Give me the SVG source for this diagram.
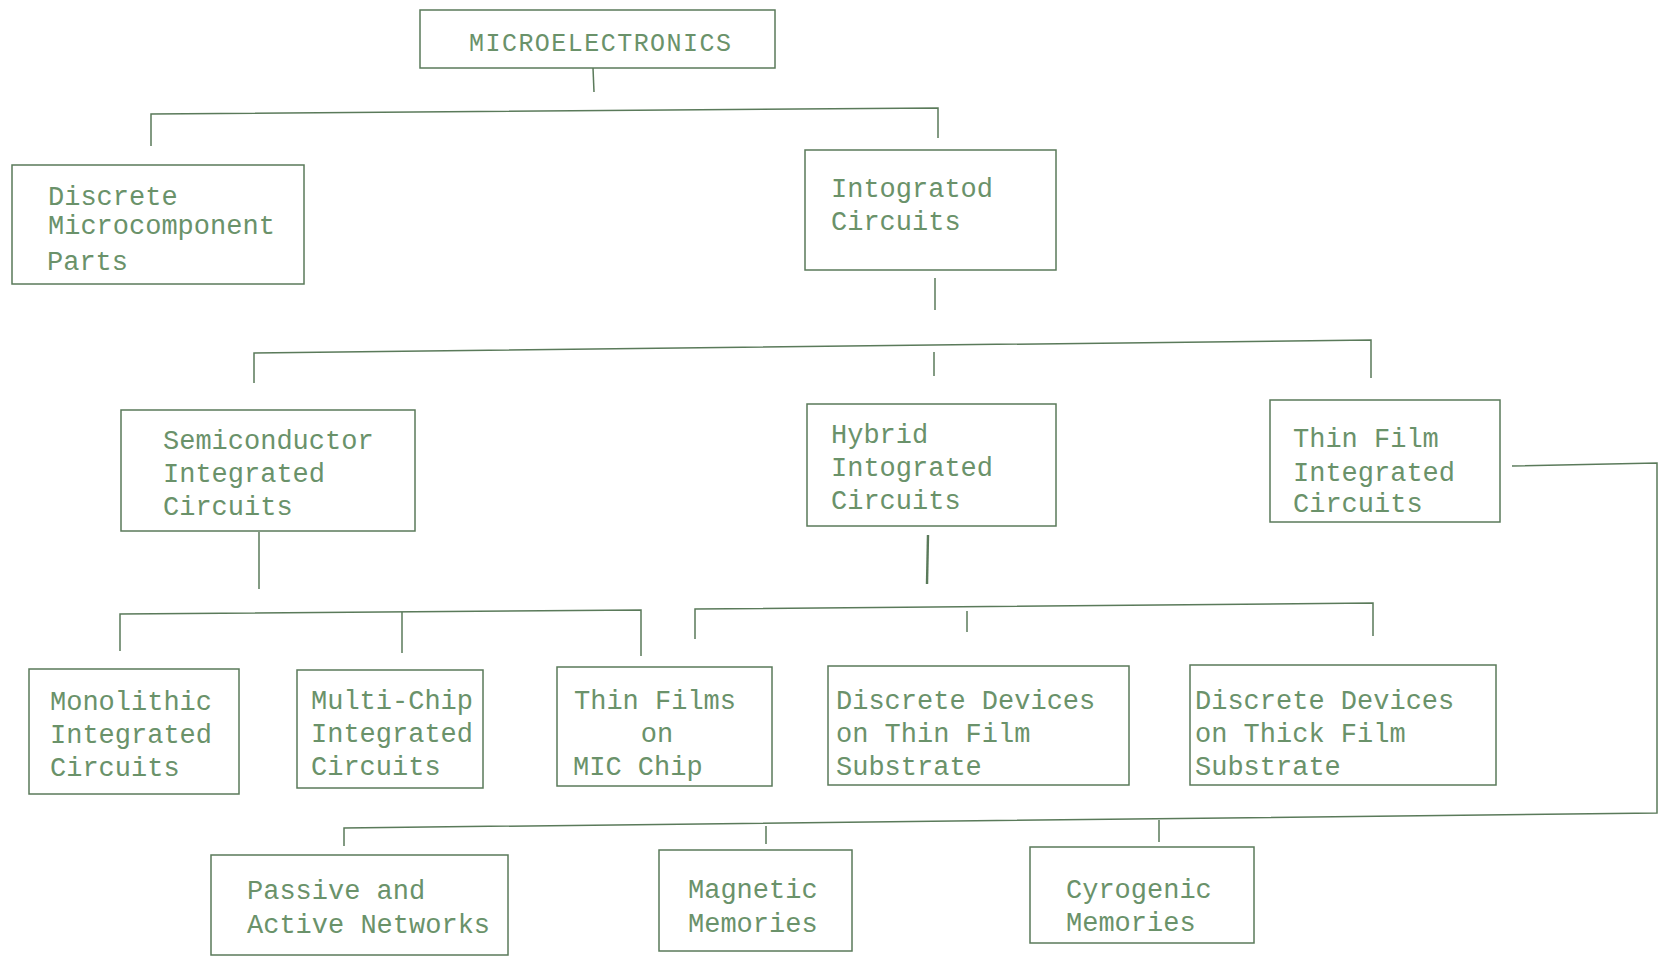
<svg xmlns="http://www.w3.org/2000/svg" width="1660" height="957" viewBox="0 0 1660 957">
<style>
  .box { fill: none; stroke: #5a7a5a; stroke-width: 1.5; }
  .lbl { font-family: "Liberation Mono", "DejaVu Sans Mono", monospace; font-size: 27px; fill: #6a926a; }
  .small { font-size: 25px; }
  .conn path { fill: none; stroke: #5a7a5a; stroke-width: 1.5; }
</style>
<rect width="1660" height="957" fill="#ffffff"/>

<g id="connectors" class="conn">
  <path d="M593,68 L594,92"/>
  <path d="M151,146 L151,114 L938,108 L938,138"/>
  <path d="M935,278 L935,310"/>
  <path d="M254,383 L254,353 L1371,340 L1371,378"/>
  <path d="M934,352 L934,376"/>
  <path d="M259,532 L259,589"/>
  <path d="M120,651 L120,614 L641,610 L641,656"/>
  <path d="M402,612 L402,653"/>
  <path d="M928,535 L927,584" style="stroke-width:2.4"/>
  <path d="M695,639 L695,609 L1373,603 L1373,636"/>
  <path d="M967,611 L967,632"/>
  <path d="M1512,466 L1657,463 L1657,813 L344,828 L344,846"/>
  <path d="M766,826 L766,844"/>
  <path d="M1159,820 L1159,842"/>
</g>

<g id="n-micro">
  <rect class="box" x="420" y="10" width="355" height="58"/>
  <text class="lbl small" x="600" y="51" text-anchor="middle" textLength="262">MICROELECTRONICS</text>
</g>

<g id="n-discrete">
  <rect class="box" x="12" y="165" width="292" height="119"/>
  <text class="lbl" x="48" y="205">Discrete</text>
  <text class="lbl" x="48" y="234">Microcomponent</text>
  <text class="lbl" x="47" y="270">Parts</text>
</g>

<g id="n-ic">
  <rect class="box" x="805" y="150" width="251" height="120"/>
  <text class="lbl" x="831" y="197">Intogratod</text>
  <text class="lbl" x="831" y="230">Circuits</text>
</g>

<g id="n-semi">
  <rect class="box" x="121" y="410" width="294" height="121"/>
  <text class="lbl" x="163" y="449">Semiconductor</text>
  <text class="lbl" x="163" y="482">Integrated</text>
  <text class="lbl" x="163" y="515">Circuits</text>
</g>

<g id="n-hybrid">
  <rect class="box" x="807" y="404" width="249" height="122"/>
  <text class="lbl" x="831" y="443">Hybrid</text>
  <text class="lbl" x="831" y="476">Intograted</text>
  <text class="lbl" x="831" y="509">Circuits</text>
</g>

<g id="n-thinfilm">
  <rect class="box" x="1270" y="400" width="230" height="122"/>
  <text class="lbl" x="1293" y="447">Thin Film</text>
  <text class="lbl" x="1293" y="481">Integrated</text>
  <text class="lbl" x="1293" y="512">Circuits</text>
</g>

<g id="n-mono">
  <rect class="box" x="29" y="669" width="210" height="125"/>
  <text class="lbl" x="50" y="710">Monolithic</text>
  <text class="lbl" x="50" y="743">Integrated</text>
  <text class="lbl" x="50" y="776">Circuits</text>
</g>

<g id="n-multi">
  <rect class="box" x="297" y="670" width="186" height="118"/>
  <text class="lbl" x="311" y="709">Multi-Chip</text>
  <text class="lbl" x="311" y="742">Integrated</text>
  <text class="lbl" x="311" y="775">Circuits</text>
</g>

<g id="n-mic">
  <rect class="box" x="557" y="667" width="215" height="119"/>
  <text class="lbl" x="574" y="709">Thin Films</text>
  <text class="lbl" x="657" y="742" text-anchor="middle">on</text>
  <text class="lbl" x="573" y="775">MIC Chip</text>
</g>

<g id="n-thin-sub">
  <rect class="box" x="828" y="666" width="301" height="119"/>
  <text class="lbl" x="836" y="709">Discrete Devices</text>
  <text class="lbl" x="836" y="742">on Thin Film</text>
  <text class="lbl" x="836" y="775">Substrate</text>
</g>

<g id="n-thick-sub">
  <rect class="box" x="1190" y="665" width="306" height="120"/>
  <text class="lbl" x="1195" y="709">Discrete Devices</text>
  <text class="lbl" x="1195" y="742">on Thick Film</text>
  <text class="lbl" x="1195" y="775">Substrate</text>
</g>

<g id="n-passive">
  <rect class="box" x="211" y="855" width="297" height="100"/>
  <text class="lbl" x="247" y="899">Passive and</text>
  <text class="lbl" x="247" y="933">Active Networks</text>
</g>

<g id="n-magnetic">
  <rect class="box" x="659" y="850" width="193" height="101"/>
  <text class="lbl" x="688" y="898">Magnetic</text>
  <text class="lbl" x="688" y="932">Memories</text>
</g>

<g id="n-cyro">
  <rect class="box" x="1030" y="847" width="224" height="96"/>
  <text class="lbl" x="1066" y="898">Cyrogenic</text>
  <text class="lbl" x="1066" y="931">Memories</text>
</g>
</svg>
